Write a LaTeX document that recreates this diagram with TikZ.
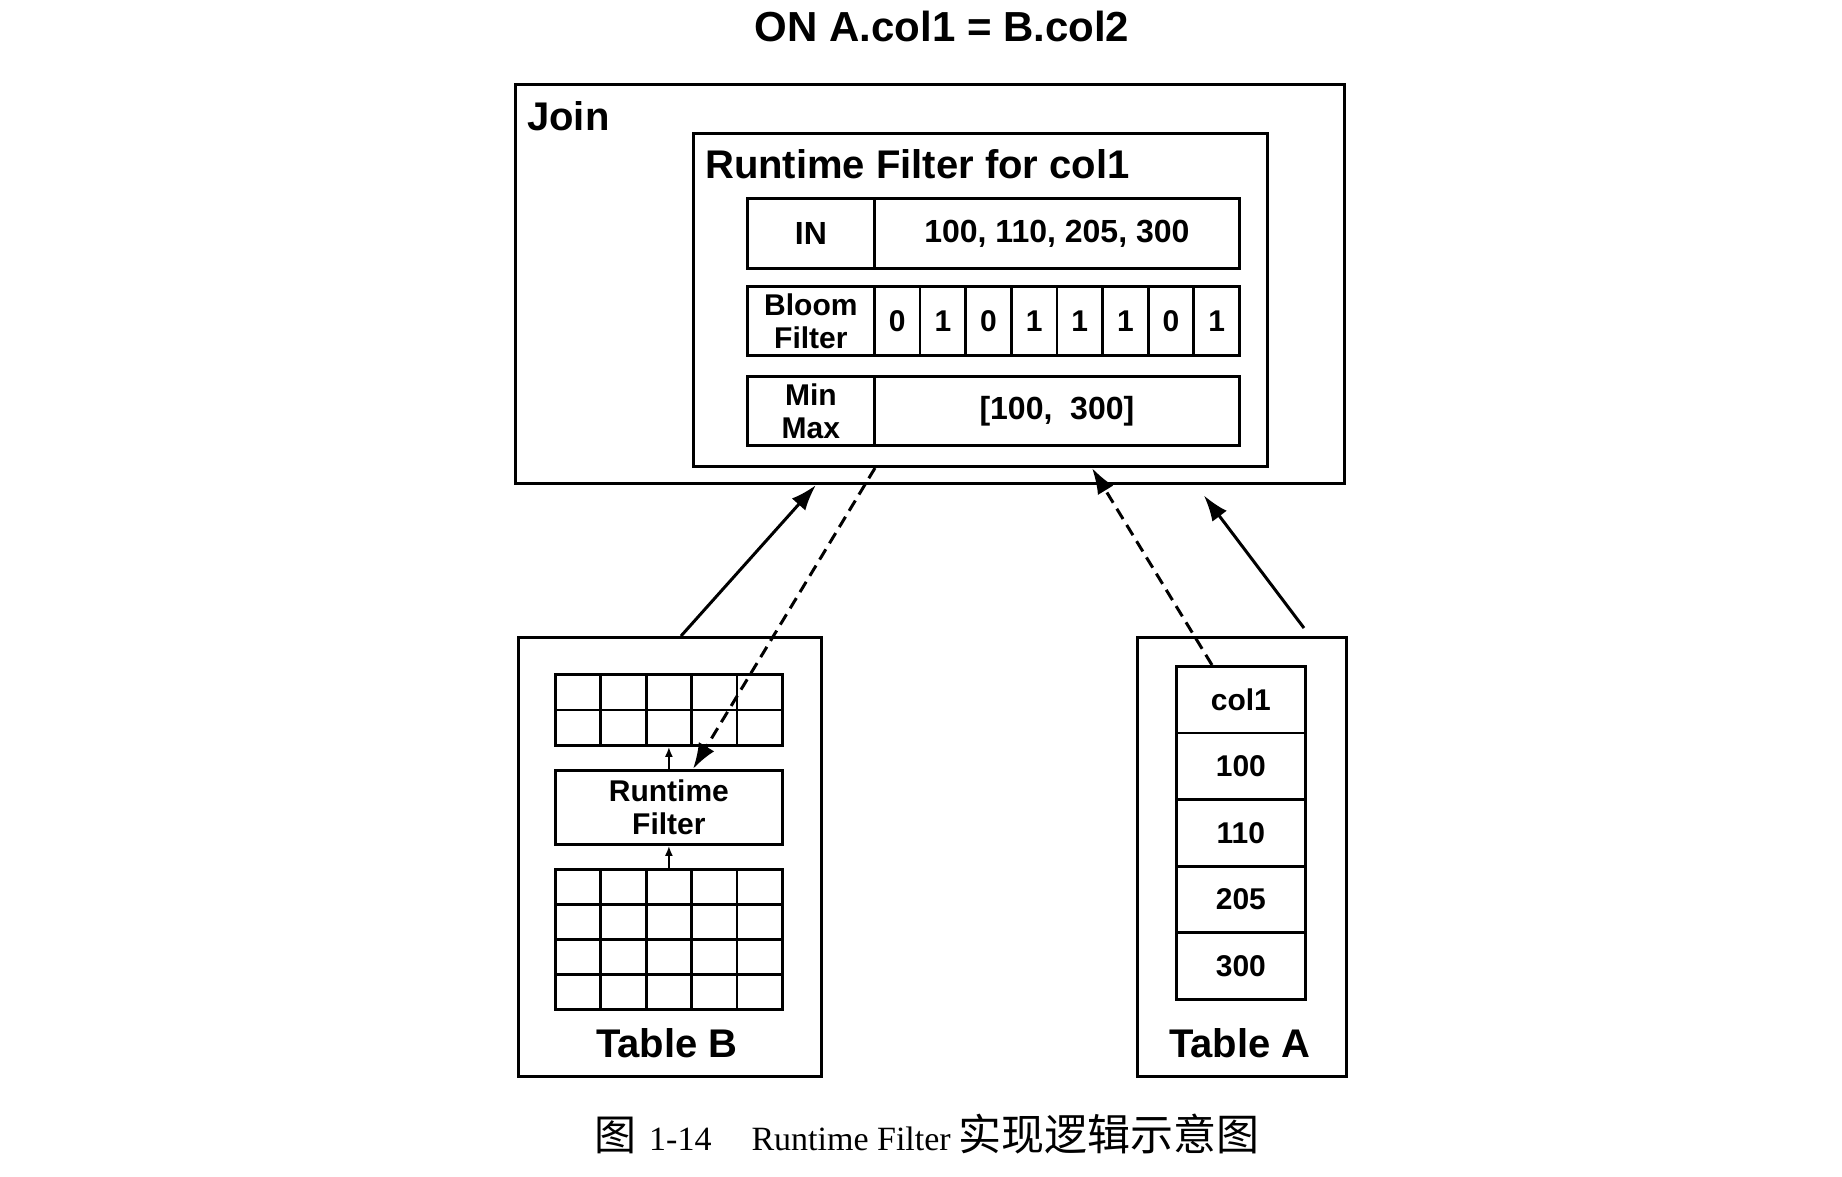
\documentclass[tikz,border=0pt]{standalone}
\usepackage{fontspec}
\setmainfont{Liberation Sans}
\newfontfamily\capserif{Liberation Serif}
\newfontfamily\cjk{Noto Sans CJK SC}
\usetikzlibrary{arrows.meta,calc}
\begin{document}
\begin{tikzpicture}[x=1pt,y=-1pt,
  box/.style={draw, line width=3pt, inner sep=0pt, anchor=north west},
  cell/.style={draw, line width=2.8pt, inner sep=0pt, anchor=north west, align=center,
    font=\bfseries\fontsize{30pt}{33pt}\selectfont},
  gcell/.style={draw, line width=2.8pt, inner sep=0pt, anchor=north west,
    minimum width=45.4pt},
  big/.style={font=\bfseries\fontsize{40pt}{44pt}\selectfont, inner sep=0pt},
  arr/.style={line width=3pt, -{Latex[length=26pt,width=18pt]}},
  darr/.style={arr, dash pattern=on 12pt off 7pt},
  sarr/.style={line width=2pt, -{Latex[length=10pt,width=8pt]}},
]
\useasboundingbox (0,0) rectangle (1842,1176);
\fill[white] (0,0) rectangle (1842,1176);

% title
\node[big, font=\bfseries\fontsize{42pt}{44pt}\selectfont] (title) at (942,26) {ON A.col1 = B.col2};

% Join box
\node[box, minimum width=829pt, minimum height=399pt] (join) at (514,83) {};
\node[big, anchor=west] (joinlbl) at (527,116) {Join};

% Runtime filter box
\node[box, minimum width=574pt, minimum height=333pt] (rf) at (692,132) {};
\node[big, anchor=west] (rflbl) at (705,164) {Runtime Filter for col1};

% IN row
\node[cell, minimum width=127pt, minimum height=70pt, font=\bfseries\fontsize{32pt}{34pt}\selectfont] (inl) at (746,197) {IN};
\node[cell, minimum width=365pt, minimum height=70pt, font=\bfseries\fontsize{32pt}{34pt}\selectfont] (inv) at (873,197) {100, 110, 205, 300};

% Bloom row
\node[cell, minimum width=127pt, minimum height=69pt] (bfl) at (746,285) {Bloom\\Filter};
\foreach \b [count=\i from 0] in {0,1,0,1,1,1,0,1}
  \node[cell, minimum width=45.625pt, minimum height=69pt] (bf\i) at (873+\i*45.625,285) {\b};

% MinMax row
\node[cell, minimum width=127pt, minimum height=69pt] (mml) at (746,375) {Min\\Max};
\node[cell, minimum width=365pt, minimum height=69pt, font=\bfseries\fontsize{32pt}{34pt}\selectfont] (mmv) at (873,375) {[100,\ \ 300]};

% Table B
\node[box, minimum width=303pt, minimum height=439pt] (tabB) at (517,636) {};
\foreach \r in {0,1}
  \foreach \c in {0,...,4}
    \node[gcell, minimum height=35.5pt] (gt\r\c) at (554+\c*45.4,673+\r*35.5) {};
\node[cell, minimum width=227pt, minimum height=74pt] (rfs) at (554,769) {Runtime\\Filter};
\foreach \r in {0,...,3}
  \foreach \c in {0,...,4}
    \node[gcell, minimum height=35pt] (gb\r\c) at (554+\c*45.4,868+\r*35) {};
\node[big] (tBlbl) at (667,1043) {Table B};

\draw[sarr] (gb02.north) -- (gb02.north |- rfs.south);
\draw[sarr] (rfs.north -| gt12.south) -- (gt12.south);

% Table A
\node[box, minimum width=209pt, minimum height=439pt] (tabA) at (1136,636) {};
\foreach \v [count=\i from 0] in {col1,100,110,205,300}
  \node[cell, minimum width=129pt, minimum height=66.6pt] (ca\i) at (1175,665+\i*66.6) {\v};
\node[big] (tAlbl) at (1240,1043) {Table A};

% connectors
\draw[arr] ($(tabB.north west)+(164,0)$) -- ($(join.south west)+(302,0)$);
\draw[darr] ($(rf.south west)+(183,0)$) -- ($(rfs.north west)+(139,0)$);
\draw[darr] ($(ca0.north west)+(37,0)$) -- ($(rf.south west)+(400,0)$);
\draw[arr, shorten <=10pt, shorten >=13pt] ($(tabA.north west)+(174,0)$) -- ($(join.south west)+(682,0)$);

% caption
\node[anchor=west, inner sep=0pt, font=\fontsize{34pt}{36pt}\selectfont] (cap) at (594,1134)
  {{\cjk\fontsize{42pt}{44pt}\selectfont 图}\hspace{13pt}{\capserif 1-14}\hspace{40pt}{\capserif Runtime Filter}\hspace{8pt}{\cjk\fontsize{43pt}{44pt}\selectfont 实现逻辑示意图}};
\end{tikzpicture}
\end{document}
